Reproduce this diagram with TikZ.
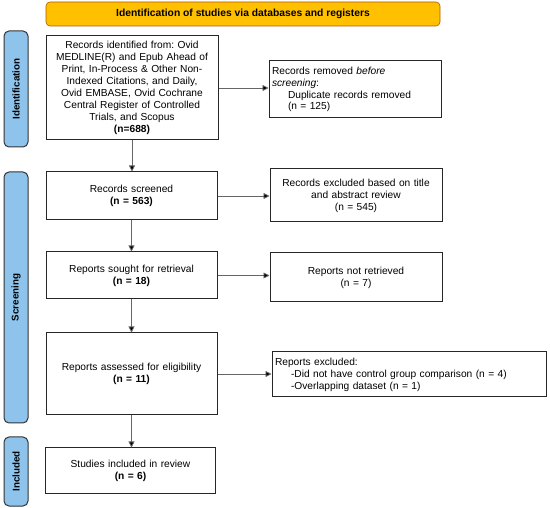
\documentclass[tikz,border=0pt]{standalone}
\usepackage{fontspec}
\setmainfont{Liberation Sans}
\usetikzlibrary{arrows.meta}
\frenchspacing
\begin{document}
\begin{tikzpicture}[x=1pt,y=-1pt,
  box/.style={draw=black!85,line width=1pt,fill=white,align=center,font=\fontsize{10.2}{11.9}\selectfont,inner sep=2pt},
  sidebar/.style={draw=black!80,line width=1pt,rounded corners=5pt,font=\bfseries\fontsize{9.8}{11}\selectfont},
  banner/.style={draw=orange!70!black,line width=0.6pt,fill={rgb,255:red,255;green,192;blue,0},rounded corners=4pt,font=\bfseries\fontsize{10.3}{12}\selectfont},
  conn/.style={draw=black!60,line width=0.8pt,-{Triangle[length=6pt,width=6pt,fill=black]}}
]
\useasboundingbox (0,0) rectangle (550,508);
\definecolor{barblue}{RGB}{142,196,235}
% banner
\node[banner,minimum width=394pt,minimum height=24pt] (ban) at (243,14) {Identification of studies via databases and registers};
% side bars
\node[sidebar,fill=barblue,minimum width=116pt,minimum height=24pt,rotate=90] (sid) at (16,89) {Identification};
\node[sidebar,fill=barblue,minimum width=251pt,minimum height=24pt,rotate=90] (sscr) at (16,297.5) {Screening};
\node[sidebar,fill=barblue,minimum width=69pt,minimum height=24pt,rotate=90] (sinc) at (16,471.5) {Included};
% main column
\node[box,minimum width=172pt,minimum height=104pt,text width=168pt] (b1) at (132,88) {Records identified from: Ovid\\MEDLINE(R) and Epub Ahead of\\Print, In-Process \& Other Non-\\Indexed Citations, and Daily,\\Ovid EMBASE, Ovid Cochrane\\Central Register of Controlled\\Trials, and Scopus\\\textbf{(n=688)}};
\node[box,minimum width=171pt,minimum height=48pt,text width=165pt] (b2) at (131.5,196) {Records screened\\\textbf{(n = 563)}};
\node[box,minimum width=171pt,minimum height=47pt,text width=165pt] (b3) at (131.5,275.5) {Reports sought for retrieval\\\textbf{(n = 18)}};
\node[box,minimum width=171pt,minimum height=82pt,text width=165pt] (b4) at (131.5,374) {Reports assessed for eligibility\\\textbf{(n = 11)}};
\node[box,minimum width=170pt,minimum height=45pt,text width=165pt] (b5) at (130.5,470.5) {Studies included in review\\\textbf{(n = 6)}};
% right column
\node[box,minimum width=172pt,minimum height=57pt,text width=166pt,align=left] (r1) at (355,89.5) {Records removed \textit{before}\\\textit{screening}:\\\hspace*{16pt}Duplicate records removed\\\hspace*{16pt}(n = 125)};
\node[box,minimum width=172pt,minimum height=53pt,text width=168pt] (r2) at (356,195.5) {Records excluded based on title\\and abstract review\\(n = 545)};
\node[box,minimum width=172pt,minimum height=49pt,text width=165pt] (r3) at (356,277.5) {Reports not retrieved\\(n = 7)};
\node[box,minimum width=274pt,minimum height=45pt,text width=268pt,align=left] (r4) at (409,374.5) {Reports excluded:\\\hspace*{16pt}-Did not have control group comparison (n = 4)\\\hspace*{16pt}-Overlapping dataset (n = 1)};
% connectors
\draw[conn] (b1.east) -- (b1.east -| r1.west);
\draw[conn] (b2.east) -- (b2.east -| r2.west);
\draw[conn] (b3.east) -- (b3.east -| r3.west);
\draw[conn] (b4.east) -- (b4.east -| r4.west);
\draw[conn] (b1.south) -- (b1.south |- b2.north);
\draw[conn] (b2.south) -- (b2.south |- b3.north);
\draw[conn] (b3.south) -- (b3.south |- b4.north);
\draw[conn] (b4.south) -- (b4.south |- b5.north);
\end{tikzpicture}
\end{document}
